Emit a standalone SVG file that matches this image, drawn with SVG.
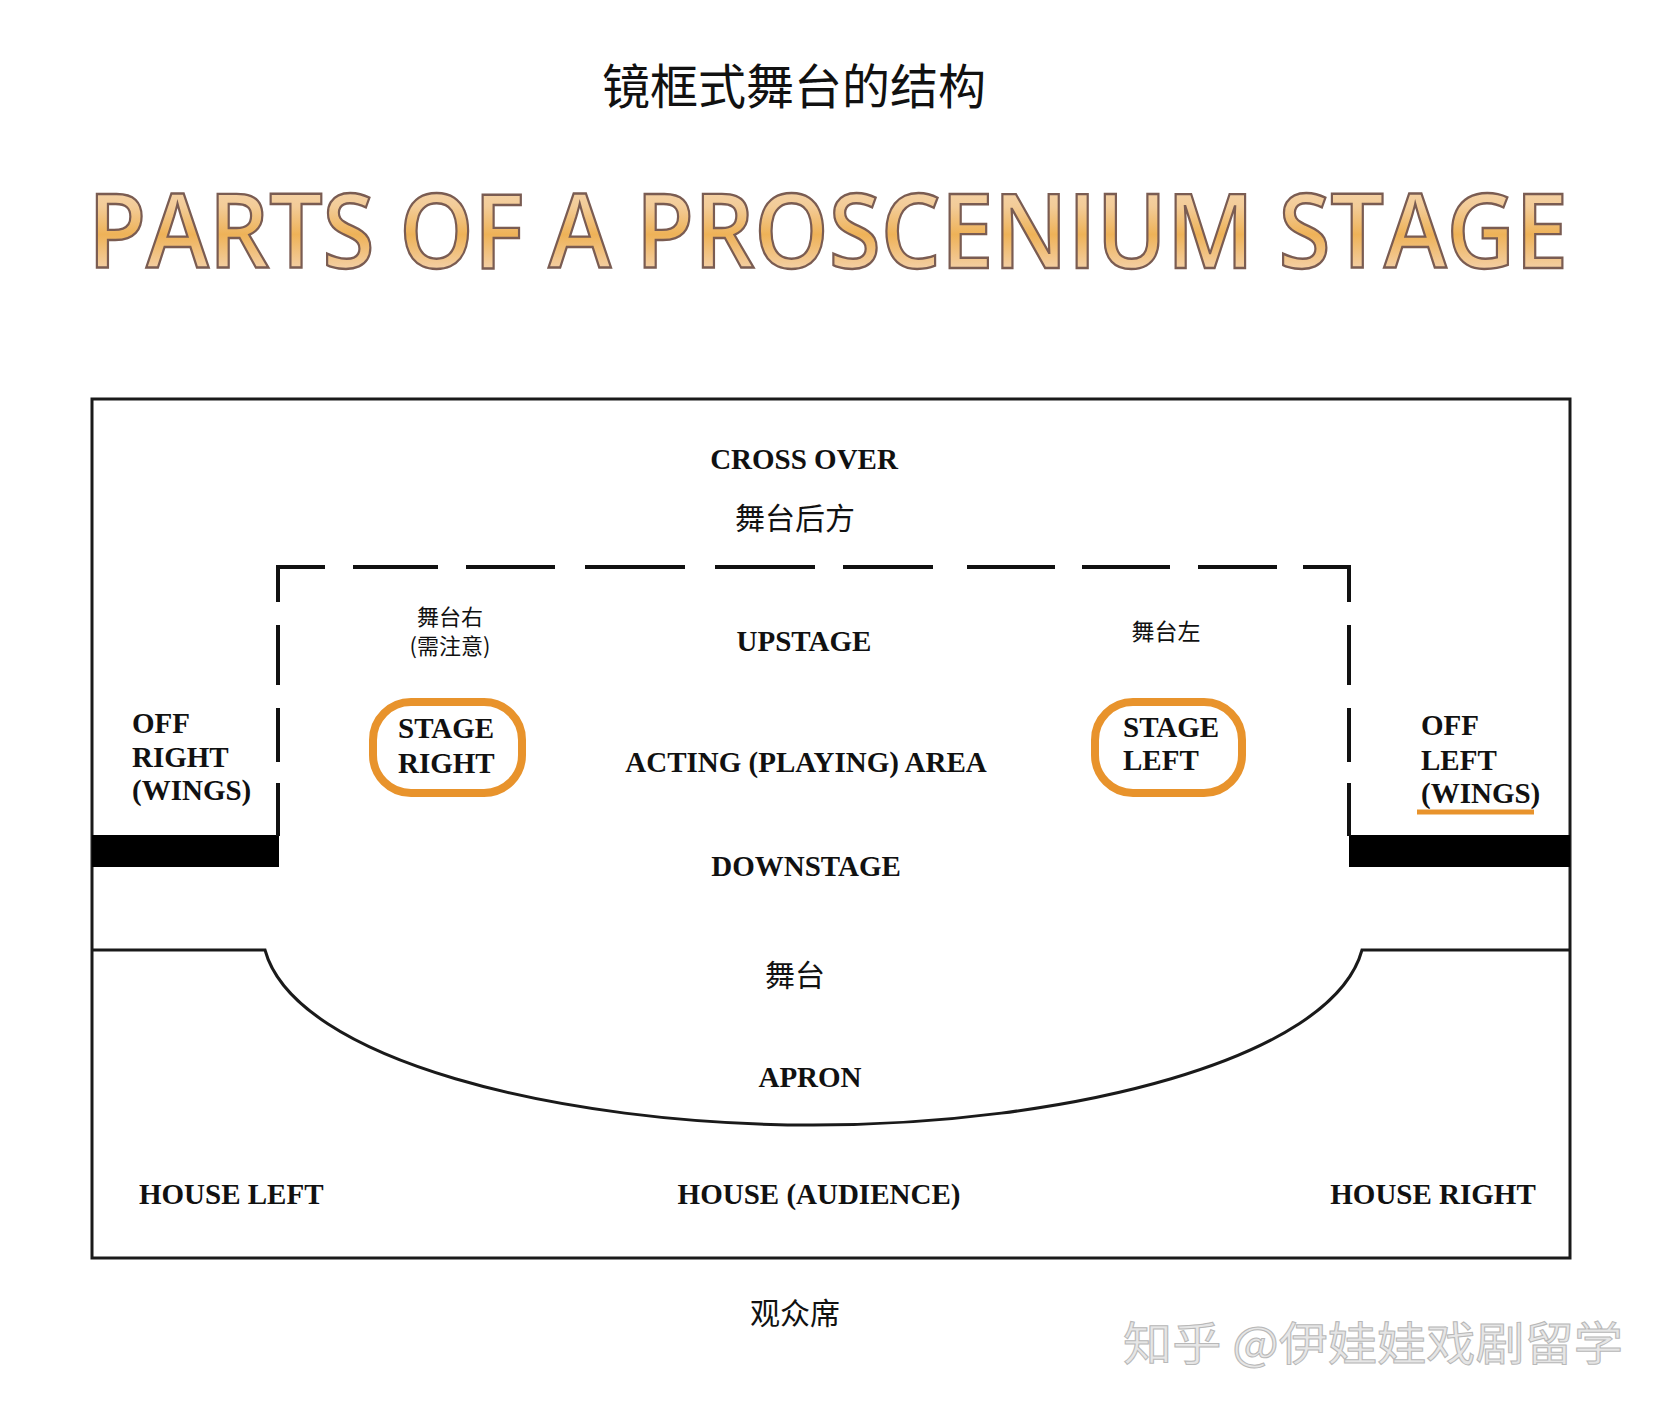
<svg xmlns="http://www.w3.org/2000/svg" width="1666" height="1412" viewBox="0 0 1666 1412">
  <defs>
    <linearGradient id="gold" x1="0" y1="0" x2="0" y2="1">
      <stop offset="0" stop-color="#f6dcc2"/>
      <stop offset="0.35" stop-color="#f3cc98"/>
      <stop offset="0.55" stop-color="#eeb258"/>
      <stop offset="0.8" stop-color="#f4d0a6"/>
      <stop offset="1" stop-color="#f7dcc4"/>
    </linearGradient>
    <style>
      .en { font-family: "Liberation Serif", "Times New Roman", serif; font-weight: bold; font-size: 29px; fill: #111; }
      .cn { font-family: "Noto Sans CJK SC", "Noto Sans", sans-serif; fill: #111; }
      .line { fill: none; stroke: #1a1a1a; stroke-width: 3; }
      .dash { fill: none; stroke: #111; stroke-width: 4; }
      .ring { fill: none; stroke: #e8932c; stroke-width: 8; }
      .bar { fill: #000; }
    </style>
  </defs>
  <rect x="0" y="0" width="1666" height="1412" fill="#ffffff"/>

  <g id="title-cn">
    <text class="cn" x="794" y="104" font-size="48" text-anchor="middle">镜框式舞台的结构</text>
  </g>
  <g id="title-en">
    <text x="88" y="268" font-family="'Open Sans', 'Liberation Sans', sans-serif" font-weight="600" font-size="104" fill="url(#gold)" stroke="#7a5c52" stroke-width="2.4" textLength="1480" lengthAdjust="spacingAndGlyphs">PARTS OF A PROSCENIUM STAGE</text>
  </g>

  <g id="structure">
    <rect class="line" x="92" y="399" width="1478" height="859"/>
    <rect class="bar" x="92" y="835" width="187" height="32"/>
    <rect class="bar" x="1349" y="835" width="221" height="32"/>
    <path class="line" d="M92,950 H265 C295,1060 560,1125 813,1125 C1066,1125 1332,1060 1362,950 H1570"/>
  </g>

  <g id="connectors">
    <path class="dash" d="M278,602 V567 H325"/>
    <path class="dash" d="M353,567 H438 M466,567 H555 M585,567 H685 M715,567 H815 M843,567 H933 M967,567 H1055 M1082,567 H1170 M1198,567 H1277"/>
    <path class="dash" d="M1303,567 H1349 V602"/>
    <path class="dash" d="M278,625 V685 M278,708 V762 M278,783 V836"/>
    <path class="dash" d="M1349,625 V685 M1349,708 V762 M1349,783 V836"/>
  </g>

  <g id="cross-over">
    <text class="en" x="804" y="469" text-anchor="middle">CROSS OVER</text>
    <text class="cn" x="795" y="529" font-size="30" text-anchor="middle">舞台后方</text>
  </g>
  <g id="upstage">
    <text class="en" x="804" y="651" text-anchor="middle">UPSTAGE</text>
  </g>
  <g id="stage-right-cn">
    <text class="cn" x="450" y="625" font-size="22" text-anchor="middle">舞台右</text>
    <text class="cn" x="450" y="654" font-size="22" text-anchor="middle">(需注意)</text>
  </g>
  <g id="stage-left-cn">
    <text class="cn" x="1166" y="640" font-size="23" text-anchor="middle">舞台左</text>
  </g>
  <g id="off-right">
    <text class="en" x="132" y="733">OFF</text>
    <text class="en" x="132" y="767">RIGHT</text>
    <text class="en" x="132" y="800">(WINGS)</text>
  </g>
  <g id="stage-right">
    <rect class="ring" x="373" y="702" width="149" height="91" rx="38"/>
    <text class="en" x="398" y="738">STAGE</text>
    <text class="en" x="398" y="773">RIGHT</text>
  </g>
  <g id="acting-area">
    <text class="en" x="806" y="772" text-anchor="middle">ACTING (PLAYING) AREA</text>
  </g>
  <g id="stage-left">
    <rect class="ring" x="1095" y="702" width="147" height="91" rx="38"/>
    <text class="en" x="1123" y="737">STAGE</text>
    <text class="en" x="1123" y="770">LEFT</text>
  </g>
  <g id="off-left">
    <text class="en" x="1421" y="735">OFF</text>
    <text class="en" x="1421" y="770">LEFT</text>
    <text class="en" x="1421" y="803">(WINGS)</text>
    <line x1="1417" y1="812" x2="1534" y2="812" stroke="#e8932c" stroke-width="5"/>
  </g>
  <g id="downstage">
    <text class="en" x="806" y="876" text-anchor="middle">DOWNSTAGE</text>
  </g>
  <g id="stage-cn">
    <text class="cn" x="795" y="986" font-size="30" text-anchor="middle">舞台</text>
  </g>
  <g id="apron">
    <text class="en" x="810" y="1087" text-anchor="middle">APRON</text>
  </g>
  <g id="house-left">
    <text class="en" x="139" y="1204">HOUSE LEFT</text>
  </g>
  <g id="house-audience">
    <text class="en" x="819" y="1204" text-anchor="middle">HOUSE (AUDIENCE)</text>
  </g>
  <g id="house-right">
    <text class="en" x="1433" y="1204" text-anchor="middle">HOUSE RIGHT</text>
  </g>
  <g id="audience-cn">
    <text class="cn" x="795" y="1324" font-size="30" text-anchor="middle">观众席</text>
  </g>
  <g id="watermark">
    <text class="cn" x="1123" y="1360" font-size="46" stroke="#b8b8b8" stroke-width="1" textLength="500" lengthAdjust="spacingAndGlyphs" style="fill:#e6e6e6">知乎 @伊娃娃戏剧留学</text>
  </g>
</svg>
